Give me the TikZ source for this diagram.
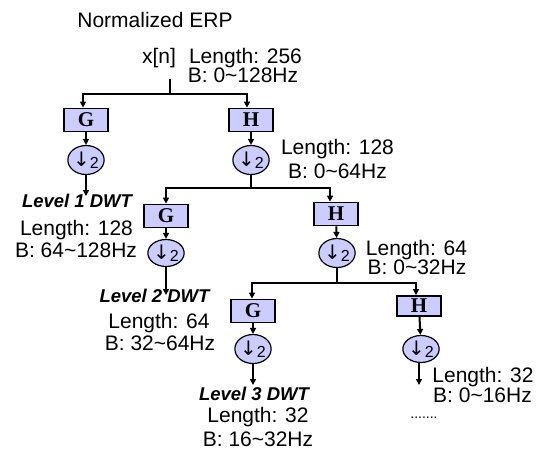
\documentclass[tikz,border=0pt]{standalone}
\usepackage{fontspec}
\setmainfont{Liberation Sans}
\newfontfamily\filterfont{Liberation Serif}
\newfontfamily\symfont{DejaVu Sans}
\usetikzlibrary{arrows.meta,shapes.geometric}

\definecolor{lav}{RGB}{204,204,255}

% down-sampling symbol: arrow with factor 2
\newcommand\dnsamp{\raisebox{-1pt}{\symfont\fontsize{20}{20}\selectfont ↓}\raisebox{-3pt}{\fontsize{16}{16}\selectfont 2}}

\tikzset{
  filt/.style={draw=black, line width=1.8pt, fill=lav, minimum width=44pt,
    minimum height=23pt, inner sep=0pt,
    font=\filterfont\bfseries\fontsize{21}{21}\selectfont},
  dsamp/.style={draw=black, line width=1.2pt, fill=lav, ellipse,
    minimum width=36pt, minimum height=29pt, inner sep=0pt},
  wire/.style={line width=2pt},
  arr/.style={wire, -{Triangle[length=6pt,width=6pt]}},
  lbl/.style={font=\fontsize{21}{21}\selectfont, anchor=base, inner sep=0pt},
  lvl/.style={font=\bfseries\itshape\fontsize{18.5}{18.5}\selectfont, anchor=base, inner sep=0pt},
}

\begin{document}
\begin{tikzpicture}[x=1pt,y=-1pt]
\useasboundingbox (0,0) rectangle (543,451);

% filter banks
\node[filt] (g1) at (86,120) {G};
\node[filt] (h1) at (251,120) {H};
\node[dsamp] (d1) at (86,160) {\dnsamp};
\node[dsamp] (e1) at (251,160) {\dnsamp};

\node[filt] (g2) at (166,216) {G};
\node[filt] (h2) at (336,214) {H};
\node[dsamp, minimum height=27pt] (d2) at (166,253) {\dnsamp};
\node[dsamp] (e2) at (337,253) {\dnsamp};

\node[filt] (g3) at (253,311) {G};
\node[filt, minimum height=20pt] (h3) at (419,306) {H};
\node[dsamp] (d3) at (253,349) {\dnsamp};
\node[dsamp, minimum height=27pt] (e3) at (421,349) {\dnsamp};

% junctions and free ends
\coordinate (src) at (170,79);
\coordinate (j0) at (170,94);
\coordinate (j1) at (251,188);
\coordinate (j2) at (337,283);
\coordinate (o1) at (86,196);
\coordinate (o2) at (166,295);
\coordinate (o3) at (253,385);
\coordinate (o4) at (419,385);

% connectors
\draw[wire] (src) -- (j0);
\draw[arr] (j0) -| ([xshift=-3pt]g1.north);
\draw[arr] (j0) -| ([xshift=-4pt]h1.north);
\draw[arr] (g1) -- (d1);
\draw[arr] (h1) -- (e1);
\draw[arr] (d1) -- (o1);
\draw[wire] (e1) -- (j1);
\draw[arr] (j1) -| (g2.north);
\draw[arr] (j1) -| ([xshift=-6pt]h2.north);
\draw[arr] (g2) -- (d2);
\draw[arr] (h2) -- (e2);
\draw[arr] (d2) -- (o2);
\draw[wire] (e2) -- (j2);
\draw[arr] (j2) -| ([xshift=-1pt]g3.north);
\draw[arr] (j2) -| ([xshift=-3pt]h3.north);
\draw[arr] (g3) -- (d3);
\draw[arr] (h3) -- (e3);
\draw[arr] (d3) -- (o3);
\draw[arr] (e3.south -| o4) -- (o4);

% labels
\node[lbl] (title) at (155,27) {Normalized ERP};
\node[lbl] (xn) at (159,63) {x[n]};
\node[lbl] (len0) at (245.5,63) {Length: 256};
\node[lbl] (b0) at (243,82) {B: 0\textasciitilde 128Hz};

\node[lbl] (lenh1) at (337.5,154) {Length: 128};
\node[lbl] (bh1) at (337.5,178) {B: 0\textasciitilde 64Hz};
\node[lbl] (lenh2) at (416.5,255) {Length: 64};
\node[lbl] (bh2) at (417,274) {B: 0\textasciitilde 32Hz};
\node[lbl] (lenh3) at (483,382) {Length: 32};
\node[lbl] (bh3) at (482.5,402) {B: 0\textasciitilde 16Hz};
\node[anchor=base, inner sep=0pt, font=\fontsize{14}{14}\selectfont] (more) at (424,418) {.......};

\node[lvl] (lv1) at (77,207) {Level 1 DWT};
\node[lbl] (len1) at (76.5,235) {Length: 128};
\node[lbl] (b1) at (76,257) {B: 64\textasciitilde 128Hz};

\node[lvl] (lv2) at (154.5,302) {Level 2 DWT};
\node[lbl] (len2) at (159,328) {Length: 64};
\node[lbl] (b2) at (160,350) {B: 32\textasciitilde 64Hz};

\node[lvl] (lv3) at (254,400) {Level 3 DWT};
\node[lbl] (len3) at (258,422) {Length: 32};
\node[lbl] (b3) at (258,446) {B: 16\textasciitilde 32Hz};
\end{tikzpicture}
\end{document}
